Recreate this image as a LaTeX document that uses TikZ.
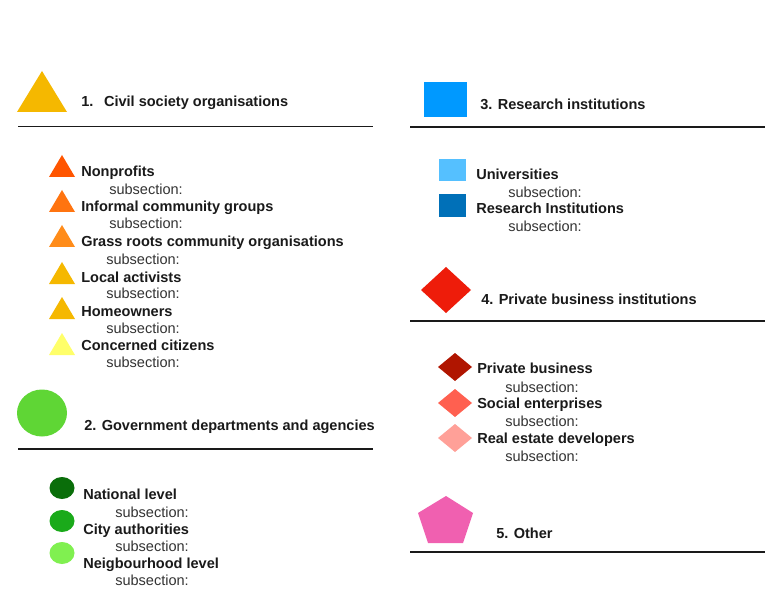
\documentclass[tikz,border=0pt]{standalone}
\usepackage{fontspec}
\setmainfont{Liberation Sans}
\usetikzlibrary{shapes.geometric}
\definecolor{txt}{HTML}{1A1A1A}
\definecolor{subtxt}{HTML}{333333}
\definecolor{amber}{HTML}{F5B800}
\definecolor{tri1}{HTML}{FF5500}
\definecolor{tri2}{HTML}{FF7410}
\definecolor{tri3}{HTML}{FF8C1A}
\definecolor{tri6}{HTML}{FFFF6A}
\definecolor{gbig}{HTML}{5FD635}
\definecolor{g1}{HTML}{0A6E0A}
\definecolor{g2}{HTML}{1AAA1A}
\definecolor{g3}{HTML}{80F050}
\definecolor{bbig}{HTML}{0099FF}
\definecolor{b1}{HTML}{55C0FF}
\definecolor{b2}{HTML}{0070B8}
\definecolor{rbig}{HTML}{EE1C0A}
\definecolor{r1}{HTML}{B01500}
\definecolor{r2}{HTML}{FF6050}
\definecolor{r3}{HTML}{FFA098}
\definecolor{pink}{HTML}{F060B0}
\tikzset{
  title/.style={anchor=base west, inner sep=0pt, text=txt, font=\fontsize{10.9}{12}\selectfont\bfseries},
  item/.style={anchor=base west, inner sep=0pt, text=txt, font=\fontsize{10.9}{12}\selectfont\bfseries},
  sub/.style={anchor=base west, inner sep=0pt, text=subtxt, font=\fontsize{10.9}{12}\selectfont},
  rule/.style={line width=1.1pt, draw=txt}
}
\begin{document}
\begin{tikzpicture}[x=0.75pt,y=-0.75pt]
\useasboundingbox[fill=white] (0,0) rectangle (767,595);
% ---------- Section 1
\fill[amber] (42,71) -- (67,112) -- (17,112) -- cycle;
\node[title] (t1) at (81,107) {1.\hspace{8pt}Civil society organisations};
\draw[rule] (18,126.5) -- (373,126.5);
\fill[tri1]  (62,155) -- (75,177) -- (49,177) -- cycle;
\node[item] (i11) at (81,177) {Nonprofits};
\node[sub] (s11) at (109,195) {subsection:};
\fill[tri2]  (62,190) -- (75,212) -- (49,212) -- cycle;
\node[item] (i12) at (81,212) {Informal community groups};
\node[sub] (s12) at (109,229) {subsection:};
\fill[tri3]  (62,225) -- (75,247) -- (49,247) -- cycle;
\node[item] (i13) at (81,247) {Grass roots community organisations};
\node[sub] (s13) at (106,264) {subsection:};
\fill[amber] (62,262) -- (75,284) -- (49,284) -- cycle;
\node[item] (i14) at (81,282) {Local activists};
\node[sub] (s14) at (106,298) {subsection:};
\fill[amber] (62,297) -- (75,319) -- (49,319) -- cycle;
\node[item] (i15) at (81,316) {Homeowners};
\node[sub] (s15) at (106,333) {subsection:};
\fill[tri6]  (62,333) -- (75,355) -- (49,355) -- cycle;
\node[item] (i16) at (81,350) {Concerned citizens};
\node[sub] (s16) at (106,367) {subsection:};
% ---------- Section 2
\fill[gbig] (42,413) ellipse [x radius=25, y radius=23.5];
\node[title] (t2) at (84,430) {2. Government departments and agencies};
\draw[rule] (18,449) -- (373,449);
\fill[g1] (62,488) ellipse [x radius=12.5, y radius=11];
\node[item] (i21) at (83,499) {National level};
\node[sub] (s21) at (115,517) {subsection:};
\fill[g2] (62,521) ellipse [x radius=12.5, y radius=11];
\node[item] (i22) at (83,534) {City authorities};
\node[sub] (s22) at (115,551) {subsection:};
\fill[g3] (62,553) ellipse [x radius=12.5, y radius=11];
\node[item] (i23) at (83,568) {Neigbourhood level};
\node[sub] (s23) at (115,585) {subsection:};
% ---------- Section 3
\fill[bbig] (424,82) rectangle (467,117);
\node[title] (t3) at (480,110) {3. Research institutions};
\draw[rule] (410,127) -- (765,127);
\fill[b1] (439,159) rectangle (466,181);
\node[item] (i31) at (476,180) {Universities};
\node[sub] (s31) at (508,198) {subsection:};
\fill[b2] (439,194) rectangle (466,217);
\node[item] (i32) at (476,214) {Research Institutions};
\node[sub] (s32) at (508,232) {subsection:};
% ---------- Section 4
\fill[rbig] (446,267) -- (471,290) -- (446,313) -- (421,290) -- cycle;
\node[title] (t4) at (481,304) {4. Private business institutions};
\draw[rule] (410,321) -- (765,321);
\fill[r1] (455,353) -- (472,367) -- (455,381) -- (438,367) -- cycle;
\node[item] (i41) at (477,373) {Private business};
\node[sub] (s41) at (505,392) {subsection:};
\fill[r2] (455,389) -- (472,403) -- (455,417) -- (438,403) -- cycle;
\node[item] (i42) at (477,408) {Social enterprises};
\node[sub] (s42) at (505,426) {subsection:};
\fill[r3] (455,424) -- (472,438) -- (455,452) -- (438,438) -- cycle;
\node[item] (i43) at (477,443) {Real estate developers};
\node[sub] (s43) at (505,461) {subsection:};
% ---------- Section 5
\fill[pink] (446,496) -- (473,513) -- (463,543) -- (428,543) -- (418,513) -- cycle;
\node[title] (t5) at (496,538) {5. Other};
\draw[rule] (410,552) -- (765,552);
\end{tikzpicture}
\end{document}
